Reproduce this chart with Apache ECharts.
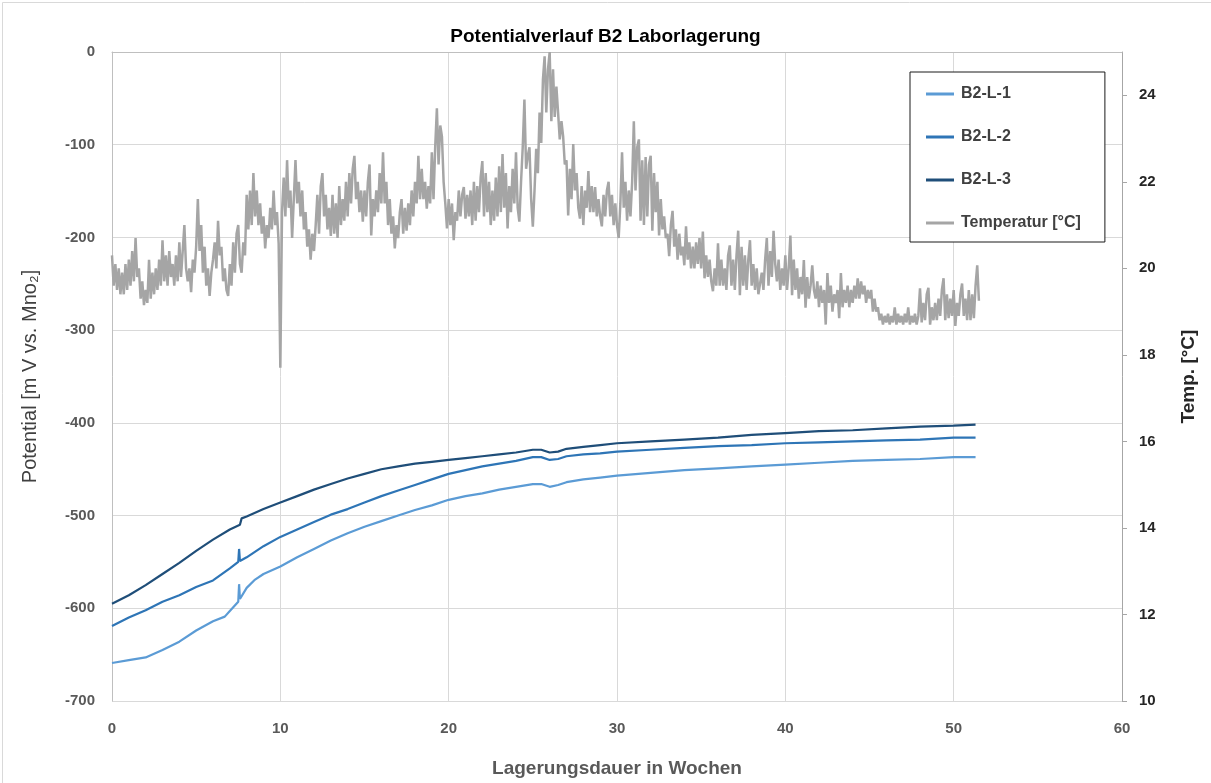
<!DOCTYPE html>
<html>
<head>
<meta charset="utf-8">
<script src="https://cdn.jsdelivr.net/npm/echarts@6/dist/echarts.min.js"></script>
<style>
html,body{margin:0;padding:0;background:#fff;}
#chart{width:1211px;height:783px;}
</style>
</head>
<body>
<div id="chart"></div>
<script>
// ---- DATA ----
var chartTitle = 'Potentialverlauf B2 Laborlagerung';
var xAxisName = 'Lagerungsdauer in Wochen';
var yLeftName = 'Potential [m V vs. Mno\u2082]';
var yRightName = 'Temp. [\u00B0C]';
var seriesNames = ['B2-L-1', 'B2-L-2', 'B2-L-3', 'Temperatur [\u00B0C]'];

// [week, mV]
var b2l1 = [[0,-659],[1,-656],[2,-653],[3,-645],[4,-636],[5,-624],[6,-614],[6.7,-609],[7,-603],[7.5,-593],[7.55,-574],[7.6,-590],[7.7,-588],[8,-578],[8.5,-569],[9,-563],[10,-555],[11,-545],[12,-536],[13,-527],[14,-519],[15,-512],[16,-506],[17,-500],[18,-494],[19,-489],[20,-483],[21,-479],[22,-476],[23,-472],[24,-469],[25,-466],[25.5,-466],[26,-469],[26.5,-467],[27,-464],[28,-461],[29,-459],[30,-457],[32,-454],[34,-451],[36,-449],[38,-447],[40,-445],[42,-443],[44,-441],[46,-440],[48,-439],[50,-437],[51.3,-437]];
var b2l2 = [[0,-619],[1,-610],[2,-602],[3,-593],[4,-586],[5,-577],[6,-570],[7,-557],[7.5,-550],[7.55,-536],[7.6,-549],[7.7,-548],[8,-545],[9,-533],[10,-523],[11,-515],[12,-507],[13,-499],[14,-493],[15,-486],[16,-479],[17,-473],[18,-467],[19,-461],[20,-455],[21,-451],[22,-447],[23,-444],[24,-441],[25,-437],[25.5,-437],[26,-440],[26.5,-439],[27,-436],[28,-434],[29,-433],[30,-431],[32,-429],[34,-427],[36,-425],[38,-424],[40,-422],[42,-421],[44,-420],[46,-419],[48,-418],[50,-416],[51.3,-416]];
var b2l3 = [[0,-595],[1,-586],[2,-575],[3,-563],[4,-551],[5,-538],[6,-526],[7,-515],[7.6,-510],[7.7,-503],[8,-501],[9,-493],[10,-486],[11,-479],[12,-472],[13,-466],[14,-460],[15,-455],[16,-450],[17,-447],[18,-444],[19,-442],[20,-440],[21,-438],[22,-436],[23,-434],[24,-432],[25,-429],[25.5,-429],[26,-432],[26.5,-431],[27,-428],[28,-426],[29,-424],[30,-422],[32,-420],[34,-418],[36,-416],[38,-413],[40,-411],[42,-409],[44,-408],[46,-406],[48,-404],[50,-403],[51.3,-402]];

// temperature readings [°C], one every 0.1 weeks starting at week 0 (one row per week)
var tempStartWeek = 0;
var tempStepWeeks = 0.1;
var tempValues = [
 20.3,19.6,20.1,19.5,20.0,19.4,19.9,19.4,20.1,19.5,
 20.2,19.6,20.4,19.7,20.7,19.8,20.0,19.3,19.7,19.15,
 19.5,19.2,20.2,19.3,19.9,19.4,20.0,19.5,20.2,19.6,
 20.65,19.7,20.3,19.6,20.4,19.8,20.1,19.6,20.3,19.7,
 20.6,19.8,20.4,21.0,20.0,19.7,20.0,19.45,20.2,19.9,
 20.5,21.6,20.4,21.0,19.9,20.5,19.6,20.0,19.36,19.9,
 20.2,20.6,20.0,21.1,20.3,20.5,19.7,20.0,19.5,19.36,
 20.1,19.6,20.6,19.9,20.8,21.0,20.1,19.9,20.6,20.3,
 21.7,20.9,21.8,21.0,22.2,21.2,21.8,21.0,21.5,20.8,
 21.2,20.46,21.0,20.7,21.4,20.9,21.8,21.0,21.3,20.58,
 17.7,21.3,22.1,21.2,22.5,21.4,21.8,20.7,21.6,22.5,
 21.5,22.0,21.2,21.8,20.9,21.3,20.5,20.9,20.2,20.8,
 20.4,21.0,21.7,20.8,21.9,22.2,21.2,21.7,20.9,21.4,
 20.75,21.7,20.8,21.5,20.7,21.9,21.0,21.6,21.1,22.0,
 21.2,22.2,21.5,22.3,22.6,21.6,22.0,21.3,21.8,21.08,
 21.8,21.2,22.0,22.4,20.76,21.6,21.2,21.8,21.3,22.2,
 21.5,22.68,21.5,22.0,21.0,21.6,20.8,21.2,20.46,21.0,
 20.7,21.3,21.6,20.8,21.4,20.87,21.5,21.0,21.8,21.2,
 22.0,21.5,22.6,21.6,22.3,21.6,22.0,21.38,21.9,21.5,
 22.68,21.6,22.8,23.7,22.4,23.3,23.05,22.0,21.5,20.92,
 21.6,21.0,21.5,20.65,21.3,21.1,21.8,21.2,21.7,21.88,
 21.15,21.7,21.2,21.8,21.0,22.0,21.1,21.9,21.3,22.1,
 22.48,21.2,22.2,21.3,22.0,21.0,21.8,21.1,22.1,21.2,
 22.36,21.3,22.64,21.4,22.2,20.92,21.9,21.3,22.3,21.5,
 22.68,21.4,21.08,22.0,22.8,23.9,22.3,22.6,22.8,21.6,
 20.96,21.8,22.76,22.2,23.6,22.9,24.36,24.9,23.6,24.6,
 25.0,23.4,24.6,23.5,24.2,23.6,22.98,23.4,23.05,22.4,
 22.5,21.22,22.3,21.6,22.87,21.8,22.2,21.4,21.15,21.9,
 21.0,21.8,21.4,22.25,21.3,21.9,21.3,21.88,21.2,21.6,
 21.2,20.97,21.7,21.2,21.8,22.0,21.2,21.7,21.0,21.5,
 21.0,20.7,21.5,22.68,21.4,22.0,21.1,21.8,21.2,22.0,
 23.4,21.8,22.8,22.98,21.1,22.5,21.0,22.57,21.2,22.4,
 22.6,20.87,22.2,21.3,22.0,20.76,21.6,20.9,21.2,20.7,
 20.8,20.28,21.0,21.33,20.5,20.9,20.2,20.8,20.3,20.5,
 20.07,20.97,20.2,20.6,20.0,20.5,20.0,20.6,20.1,20.7,
 20.0,20.85,19.77,20.3,19.8,20.2,19.7,19.47,20.0,19.6,
 20.58,19.6,20.2,19.6,20.0,19.5,20.3,20.53,19.6,20.2,
 19.5,20.3,20.87,19.38,20.5,19.6,20.3,19.5,20.2,20.65,
 19.6,20.1,19.5,20.0,19.4,19.36,19.9,19.5,20.2,20.7,
 19.6,20.4,19.8,20.87,20.1,19.7,20.2,19.5,20.0,19.6,
 20.3,19.5,20.0,20.76,19.38,20.2,19.5,20.0,19.3,19.8,
 19.4,20.19,19.09,19.8,19.3,19.6,20.07,19.5,19.3,19.7,
 19.1,19.6,19.2,19.5,18.7,19.89,19.2,19.6,19.0,19.4,
 19.2,19.5,18.85,19.89,19.1,19.5,19.2,19.6,19.1,19.5,
 19.2,19.6,19.3,19.77,19.3,19.7,19.4,19.6,19.2,19.5,
 19.3,19.5,19.0,19.3,19.0,19.1,18.8,18.95,18.7,18.9,
 18.75,18.95,18.7,18.9,18.75,19.1,18.7,18.95,18.75,18.9,
 18.7,18.95,18.75,19.1,18.7,18.9,18.75,18.95,18.7,18.9,
 19.54,18.75,19.2,18.8,19.4,19.55,18.7,19.1,18.8,19.2,
 18.8,19.3,18.9,19.5,19.77,18.8,19.4,18.85,19.3,18.9,
 19.5,18.67,19.2,18.9,19.4,19.65,18.9,19.3,18.8,19.5,
 18.8,19.4,18.85,19.6,20.07,19.25
];

var xTicks = {min:0, max:60, interval:10};
var yLeftTicks = {min:-700, max:0, interval:100};
var yRightTicks = {min:10, max:25, interval:2};

// ---- BUILD ----
var tempData = tempValues.map(function(v,i){ return [+(tempStartWeek + i*tempStepWeeks).toFixed(2), v]; });

var FONT = '"Liberation Sans",Arial,sans-serif';
var colors = ['#5B9BD5','#2E75B6','#1F4E79','#A5A5A5'];

var chart = echarts.init(document.getElementById('chart'), null, {renderer:'canvas'});
function lineSeries(name, data, color, yIdx, z, w){
  return {name:name, type:'line', data:data, yAxisIndex:yIdx, showSymbol:false, symbol:'none',
    lineStyle:{color:color, width:w}, itemStyle:{color:color}, animation:false, z:z};
}
chart.setOption({
  backgroundColor:'#ffffff',
  title:{text:chartTitle, left:'center', top:22,
    textStyle:{fontFamily:FONT, fontSize:19, fontWeight:'bold', color:'#000'}},
  grid:{left:112, right:89, top:52, bottom:76, containLabel:false},
  legend:{orient:'vertical', left:910, top:72,
    padding:[14,24,11,16], itemGap:27, itemWidth:28, itemHeight:3, icon:'rect',
    backgroundColor:'#fff', borderColor:'#1a1a1a', borderWidth:1,
    textStyle:{fontFamily:FONT, fontSize:16, fontWeight:'bold', color:'#404040', padding:[0,0,0,2]},
    data:seriesNames},
  xAxis:{type:'value', min:xTicks.min, max:xTicks.max, interval:xTicks.interval,
    name:xAxisName, nameLocation:'middle', nameGap:58,
    nameTextStyle:{fontFamily:FONT, fontSize:19, fontWeight:'bold', color:'#595959'},
    axisLine:{show:true, lineStyle:{color:'#bfbfbf', width:1}},
    axisTick:{show:false},
    axisLabel:{fontFamily:FONT, fontSize:15, fontWeight:'bold', color:'#595959', margin:20},
    splitLine:{show:true, lineStyle:{color:'#d9d9d9', width:1}}},
  yAxis:[
    {type:'value', min:yLeftTicks.min, max:yLeftTicks.max, interval:yLeftTicks.interval,
     position:'left', name:yLeftName, nameLocation:'middle', nameGap:72, nameRotate:90,
     nameTextStyle:{fontFamily:FONT, fontSize:20, color:'#404040'},
     axisLine:{show:true, lineStyle:{color:'#bfbfbf', width:1}},
     axisTick:{show:false},
     axisLabel:{fontFamily:FONT, fontSize:15, fontWeight:'bold', color:'#595959', margin:17},
     splitLine:{show:true, lineStyle:{color:'#d9d9d9', width:1}}},
    {type:'value', min:yRightTicks.min, max:yRightTicks.max, interval:yRightTicks.interval,
     position:'right', name:yRightName, nameLocation:'middle', nameGap:57, nameRotate:90,
     nameTextStyle:{fontFamily:FONT, fontSize:19, fontWeight:'bold', color:'#262626'},
     axisLine:{show:true, lineStyle:{color:'#a6a6a6', width:1}},
     axisTick:{show:true, inside:false, length:5, lineStyle:{color:'#a6a6a6'}},
     axisLabel:{fontFamily:FONT, fontSize:15, fontWeight:'bold', color:'#262626', margin:17, showMaxLabel:false},
     splitLine:{show:false}}
  ],
  series:[
    lineSeries(seriesNames[0], b2l1, colors[0], 0, 3, 2.2),
    lineSeries(seriesNames[1], b2l2, colors[1], 0, 3, 2.2),
    lineSeries(seriesNames[2], b2l3, colors[2], 0, 3, 2.2),
    lineSeries(seriesNames[3], tempData, colors[3], 1, 2, 2.5)
  ],
  graphic:[{type:'rect', left:0, top:0, shape:{x:0.5, y:0.5, width:1210, height:782},
    style:{fill:'none', stroke:'#d9d9d9', lineWidth:1}, silent:true, z:-1}],
  animation:false
});
</script>
</body>
</html>
